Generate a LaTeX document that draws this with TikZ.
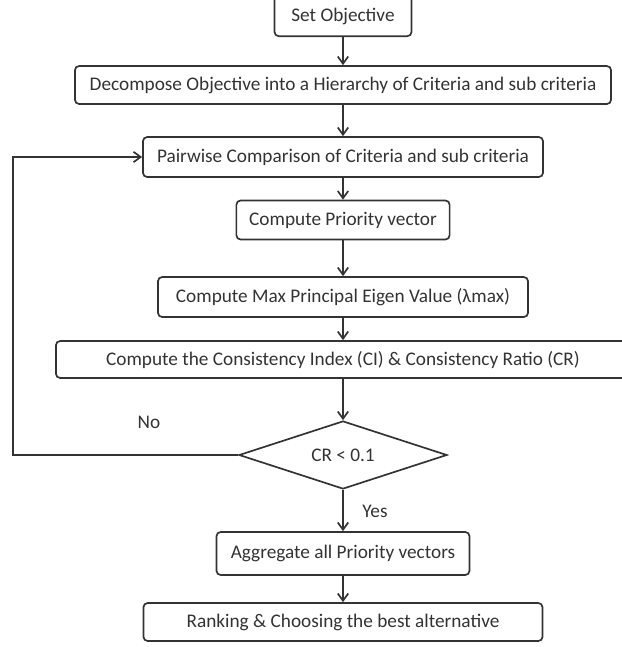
\documentclass[tikz,border=0pt]{standalone}
\usepackage{fontspec}
\setmainfont{Carlito}
\usepackage{xcolor}
\usepackage{tikz}
\usetikzlibrary{shapes.geometric,arrows.meta}
\definecolor{ink}{HTML}{333333}
\tikzset{
  stepbox/.style={draw=ink, line width=1.2pt, rounded corners=3pt, text=ink, inner sep=0pt, font=\fontsize{13.7}{16}\selectfont},
  testbox/.style={draw=ink, line width=1.2pt, diamond, aspect=3, text=ink, inner sep=0pt, font=\fontsize{13.7}{16}\selectfont},
  arr/.style={draw=ink, line width=1.2pt, -{Straight Barb[length=1.8mm,width=2.6mm]}},
  lbl/.style={text=ink, font=\fontsize{13.7}{16}\selectfont}
}
\begin{document}
\begin{tikzpicture}[x=0.025cm, y=-0.025cm]
\clip (0,0) rectangle (622,647);
\node[stepbox, minimum width=3.425cm, text height=1cm, text depth=0.36cm, anchor=south] (obj) at (343,37) {Set Objective};
\node[stepbox, minimum width=13.4cm, minimum height=0.95cm] (dec) at (343,85) {Decompose Objective into a Hierarchy of Criteria and sub criteria};
\node[stepbox, minimum width=10cm, minimum height=1cm] (pair) at (343,157) {Pairwise Comparison of Criteria and sub criteria};
\node[stepbox, minimum width=5.33cm, minimum height=0.975cm] (prio) at (343,220) {Compute Priority vector};
\node[stepbox, minimum width=9.25cm, minimum height=1cm] (eig) at (343,297) {Compute Max Principal Eigen Value (\symbol{"03BB}max)};
\node[stepbox, minimum width=14.35cm, minimum height=0.925cm] (ci) at (343,359.5) {Compute the Consistency Index (CI) \& Consistency Ratio (CR)};
\node[testbox, minimum width=5.2cm, minimum height=1.7cm] (cr) at (343,455) {CR < 0.1};
\node[stepbox, minimum width=6.325cm, minimum height=1.075cm] (agg) at (343,553.5) {Aggregate all Priority vectors};
\node[stepbox, minimum width=9.975cm, minimum height=0.95cm] (rank) at (343,622) {Ranking \& Choosing the best alternative};

\node[lbl] (no) at (149,422) {No};
\node[lbl] (yes) at (375,511) {Yes};
\coordinate (fb) at (13,455);

\draw[arr] (obj) -- (dec);
\draw[arr] (dec) -- (pair);
\draw[arr] (pair) -- (prio);
\draw[arr] (prio) -- (eig);
\draw[arr] (eig) -- (ci);
\draw[arr] (ci) -- (cr);
\draw[arr] (cr) -- (agg);
\draw[arr] (agg) -- (rank);
\draw[arr] (cr.west) -- (fb) |- (pair.west);
\end{tikzpicture}
\end{document}
